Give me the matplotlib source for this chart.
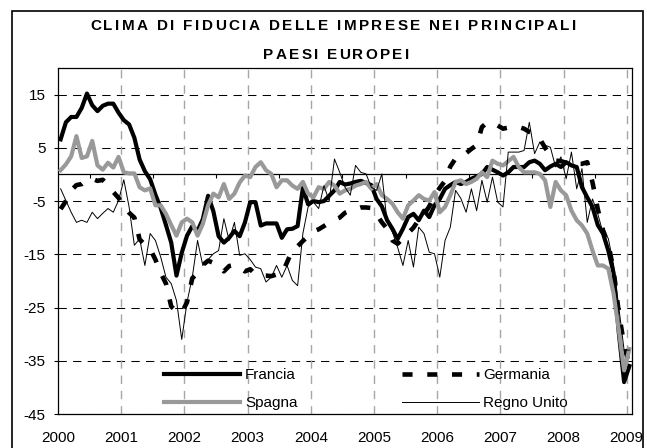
import matplotlib
matplotlib.use('Agg')
import matplotlib.pyplot as plt
from matplotlib.patches import Rectangle
from matplotlib.font_manager import FontProperties
from matplotlib.transforms import Bbox, blended_transform_factory
import numpy as np

plt.rcParams['font.family'] = ['Liberation Sans', 'DejaVu Sans']

years = ['2000', '2001', '2002', '2003', '2004', '2005', '2006', '2007', '2008', '2009']
yticks = [-45, -35, -25, -15, -5, 5, 15]
series_names = ['Francia', 'Germania', 'Spagna', 'Regno Unito']
title_lines = ['CLIMA DI FIDUCIA DELLE IMPRESE NEI PRINCIPALI', 'PAESI EUROPEI']

francia = [6.6, 9.8, 10.8, 10.8, 12.5, 15.2, 13.0, 11.9, 12.9, 13.3, 13.3, 11.6,
           10.2, 9.4, 6.9, 2.8, 0.6, -0.9, -3.8, -6.3, -9.5, -12.8, -19.0, -14.7,
           -11.5, -9.7, -10.6, -8.4, -4.0, -6.9, -11.6, -12.8, -11.9, -10.6, -11.6, -9.0,
           -5.2, -5.2, -9.6, -9.2, -9.2, -9.2, -11.9, -10.3, -10.2, -9.7, -2.5, -5.6,
           -5.0, -5.2, -5.0, -4.0, -3.0, -1.4, -1.9, -1.7, -1.4, -1.2, -1.6, -2.0,
           -4.6, -6.0, -8.6, -10.2, -12.1, -10.2, -8.0, -7.4, -8.6, -6.8, -8.0, -5.8,
           -4.6, -2.7, -2.0, -1.4, -1.8, -1.4, -0.8, -0.4, 0.1, 1.4, 0.9, 0.4,
           -0.2, 0.4, 1.4, 1.4, 1.4, 2.3, 2.6, 2.0, 0.8, 1.5, 2.0, 1.4,
           2.3, 1.7, 1.4, -2.4, -4.3, -6.1, -9.5, -11.1, -14.3, -18.5, -29.8, -39.0,
           -36.0]

germania = [-6.5, -5.0, -3.0, -2.0, -1.8, -1.0, -0.8, -1.2, -1.0, -2.0, -3.3, -4.4,
            -6.0, -7.2, -8.1, -12.2, -13.2, -14.0, -16.0, -18.5, -20.5, -24.8, -25.7, -26.0,
            -24.0, -19.5, -18.5, -17.0, -16.2, -16.6, -17.0, -18.2, -17.2, -17.0, -17.5, -18.2,
            -17.8, -18.8, -19.0, -19.0, -19.1, -18.8, -18.7, -16.5, -14.2, -13.5, -12.5, -11.6,
            -10.7, -10.3, -9.7, -9.1, -8.5, -8.1, -7.2, -6.8, -6.5, -6.2, -6.2, -6.3,
            -7.5, -9.0, -10.2, -12.4, -13.0, -12.0, -11.0, -10.0, -8.5, -7.5, -6.0, -4.0,
            -2.5, -1.2, 1.5, 3.0, 3.2, 4.0, 4.8, 5.5, 8.9, 9.8, 9.5, 9.2,
            8.6, 8.8, 9.0, 8.9, 8.6, 8.0, 7.6, 6.7, 5.0, 3.6, 2.6, 2.5,
            2.2, 2.0, 2.0, 2.0, 2.3, -1.5, -6.5, -10.5, -13.0, -18.0, -26.0, -32.0,
            -36.0]

spagna = [0.8, 1.9, 3.4, 7.2, 3.1, 3.4, 6.3, 1.7, 0.9, 2.2, 1.3, 3.3,
          0.4, 0.2, 0.2, -2.4, -3.0, -2.6, -5.8, -5.8, -7.4, -9.5, -11.5, -9.0,
          -8.3, -9.0, -11.5, -9.3, -5.8, -3.6, -4.3, -1.8, -4.6, -3.6, -1.5, -0.2,
          -0.5, 1.4, 2.3, 0.8, 0.1, -2.4, -1.1, -1.1, -2.1, -2.7, -1.4, -3.6,
          -4.3, -2.4, -2.7, -1.4, -2.1, -3.6, -3.0, -2.7, -2.1, -1.8, -1.4, -2.7,
          -1.8, -3.9, -4.6, -5.5, -7.1, -8.3, -5.8, -4.9, -3.9, -4.6, -4.9, -3.3,
          -7.1, -6.1, -3.9, -1.4, -1.1, -1.8, -1.4, -0.8, 0.4, -0.5, 2.6, 2.0,
          1.7, 2.5, 3.3, 1.4, 0.4, 0.4, 0.4, 0.1, -1.1, -6.1, -1.4, -3.0,
          -3.9, -6.8, -8.6, -9.6, -11.1, -14.3, -17.1, -17.1, -17.7, -22.4, -29.3, -36.8,
          -32.8]

regno_unito = [-2.7, -4.9, -7.1, -9.0, -8.6, -9.0, -7.1, -8.3, -7.3, -6.4, -7.1, -4.9,
               -1.0, -6.1, -13.3, -12.1, -17.1, -11.1, -12.4, -15.5, -19.3, -20.5, -23.7, -31.0,
               -24.0, -19.3, -12.4, -17.1, -16.0, -14.9, -14.3, -8.3, -12.4, -9.0, -15.2, -14.9,
               -16.0, -17.4, -17.7, -20.2, -19.3, -17.1, -19.3, -17.1, -19.9, -20.9, -11.1, -6.1,
               -5.2, -6.4, -2.1, -5.0, 2.9, 0.4, -2.4, -3.9, 1.7, 0.4, 0.1, -2.4,
               -3.0, 0.1, -9.0, -10.8, -13.7, -17.1, -12.4, -17.4, -9.9, -11.1, -14.6, -14.9,
               -19.3, -12.4, -9.9, -3.0, -4.5, -7.1, -2.7, -6.8, -1.1, -5.2, -0.5, -5.2,
               -6.1, 4.2, 4.2, 4.2, 4.5, 9.8, 3.9, 6.1, 5.5, 5.1, 1.4, 3.3,
               -0.8, 4.2, -2.7, 1.1, -9.0, -4.6, -7.4, -11.0, -12.0, -17.0, -25.0, -33.0,
               -33.0]

W, H = 647, 448
fig = plt.figure(figsize=(W / 100, H / 100), dpi=100)
ax = fig.add_axes([58 / W, 1 - 414 / H, (632 - 58) / W, (414 - 68) / H])

n = len(francia)
x = np.arange(n) + 0.5

# gridlines
for yv in yticks:
    ax.axhline(yv, color='black', lw=0.75, ls=(0, (8, 6)), zorder=1)
for i in range(1, len(years)):
    ax.axvline(12 * i, color='#a6a6a6', lw=1.0, ls=(0, (6, 5)), zorder=1)
ax.axhline(0, color='black', lw=0.9, zorder=1.5)

# small tick marks on the zero (category) axis, mid-year
tick_tr = blended_transform_factory(ax.transData, ax.transData)
mid_year = [12 * i + 6 for i in range(len(years) - 1)]
ax.vlines(mid_year, -0.75, 0, color='black', lw=0.8, zorder=1.5)

h_fr, = ax.plot(x, francia, color='black', lw=3.0, label=series_names[0], zorder=3)
h_de, = ax.plot(x, germania, color='black', lw=3.3, ls=(0, (2.2, 3.2)), dash_capstyle='butt',
                label=series_names[1], zorder=3)
h_es, = ax.plot(x, spagna, color='#999999', lw=3.0, label=series_names[2], zorder=3)
h_uk, = ax.plot(x, regno_unito, color='black', lw=0.7, label=series_names[3], zorder=4)

ax.set_xlim(0, 109)
ax.set_ylim(-45, 20)
ax.set_yticks(yticks)
ax.set_yticklabels([str(v) for v in yticks], fontsize=11)
ax.set_xticks([12 * i for i in range(len(years))])
ax.set_xticklabels(years, fontsize=11)
ax.tick_params(axis='x', length=0, pad=12)
ax.tick_params(axis='y', length=3, width=0.8, pad=6, direction='out')
for s in ax.spines.values():
    s.set_linewidth(0.9)
    s.set_color('black')

leg = ax.legend([h_fr, h_es, h_de, h_uk],
                [series_names[0], series_names[2], series_names[1], series_names[3]],
                ncol=2, loc='lower left', bbox_to_anchor=(0.178, 0.0), frameon=False,
                fontsize=11, handlelength=5.0, handletextpad=0.3, columnspacing=6.85,
                labelspacing=0.92, borderaxespad=0.0, borderpad=0.25)

# title with letter spacing
fig.canvas.draw()
renderer = fig.canvas.get_renderer()
fp = FontProperties(family=['Liberation Sans', 'DejaVu Sans'], weight='bold', size=11)


def text_w(s):
    w, h, d = renderer.get_text_width_height_descent(s, fp, ismath=False)
    return w


def tracked(s, xc, ybase, track):
    ref = text_w('HH')
    adv = [text_w('H' + ch + 'H') - ref for ch in s]
    total = sum(adv) + track * (len(s) - 1)
    xp = xc - total / 2
    for ch, a in zip(s, adv):
        if ch != ' ':
            fig.text(xp / W, 1 - ybase / H, ch, fontproperties=fp, ha='left', va='baseline')
        xp += a + track


tracked(title_lines[0], 333, 30, 2.4)
tracked(title_lines[1], 336, 59, 2.3)

# outer border
border = Rectangle((12 / W, -3 / H), (643 - 12) / W, (448 + 3 - 11) / H,
                   transform=fig.transFigure, fill=False, lw=1.2,
                   edgecolor='black', zorder=10)
fig.patches.append(border)

# clip last year label at the border
lbl = ax.get_xticklabels()[-1]
lbl.set_clip_on(True)
lbl.set_clip_box(Bbox.from_extents(0, 0, 643, H))

fig.savefig('out.png', dpi=100)
